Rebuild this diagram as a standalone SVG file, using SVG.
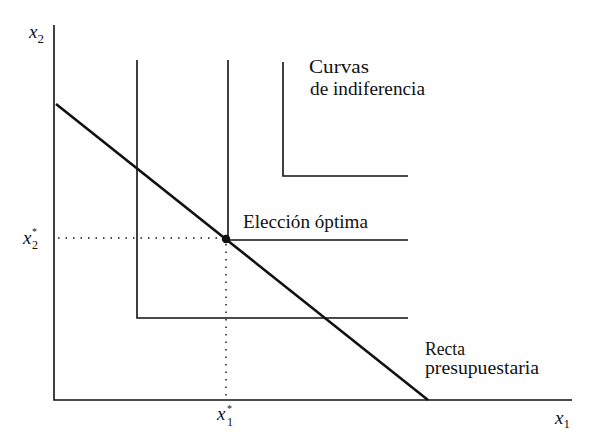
<svg xmlns="http://www.w3.org/2000/svg" width="602" height="442" viewBox="0 0 602 442">
<style>
.t{font-family:"Liberation Serif","DejaVu Serif",serif;font-size:18px;fill:#111}
.v{font-family:"Liberation Serif","DejaVu Serif",serif;font-size:19px;font-style:italic;fill:#111}
.s{font-family:"Liberation Serif","DejaVu Serif",serif;font-size:12px;fill:#111}
.st{font-family:"Liberation Serif","DejaVu Serif",serif;font-size:10px;fill:#111}
.ln{stroke:#111;fill:none;stroke-width:1.6}
.dot{stroke:#111;fill:none;stroke-width:1.4;stroke-dasharray:1.5 6}
</style>
<rect width="602" height="442" fill="#fff"/>
<g id="axes">
<path class="ln" d="M54 25 V400 H572" stroke-width="1.8"/>
<text class="v" x="29" y="38">x<tspan font-size="13" font-style="normal" dy="5">2</tspan></text>
<text class="v" x="555" y="424">x<tspan font-size="13" font-style="normal" dy="4">1</tspan></text>
</g>
<g id="curve1"><path class="ln" d="M137 60 V318 H408"/></g>
<g id="curve2"><path class="ln" d="M228 60 V240 H408"/></g>
<g id="curve3"><path class="ln" d="M283 62 V176 H408"/></g>
<g id="budget">
<path d="M56 104 L428 400" stroke="#111" stroke-width="2.6" fill="none"/>
</g>
<g id="connectors">
<path class="dot" d="M58 238 H222"/>
<path class="dot" d="M226 244 V398"/>
</g>
<g id="optimum">
<circle cx="226" cy="239" r="4.2" fill="#111"/>
<text class="t" x="243" y="228" textLength="125" lengthAdjust="spacingAndGlyphs">Elección óptima</text>
</g>
<g id="labels">
<text class="t" x="309" y="73" textLength="60" lengthAdjust="spacingAndGlyphs">Curvas</text>
<text class="t" x="310" y="95" textLength="115" lengthAdjust="spacingAndGlyphs">de indiferencia</text>
<text class="t" x="425" y="355" textLength="40" lengthAdjust="spacingAndGlyphs">Recta</text>
<text class="t" x="425" y="374" textLength="114" lengthAdjust="spacingAndGlyphs">presupuestaria</text>
<text class="v" x="23" y="244">x</text>
<text class="st" x="32" y="235">*</text>
<text class="s" x="32" y="249">2</text>
<text class="v" x="217" y="420">x</text>
<text class="st" x="227" y="412">*</text>
<text class="s" x="227" y="426">1</text>
</g>
</svg>
